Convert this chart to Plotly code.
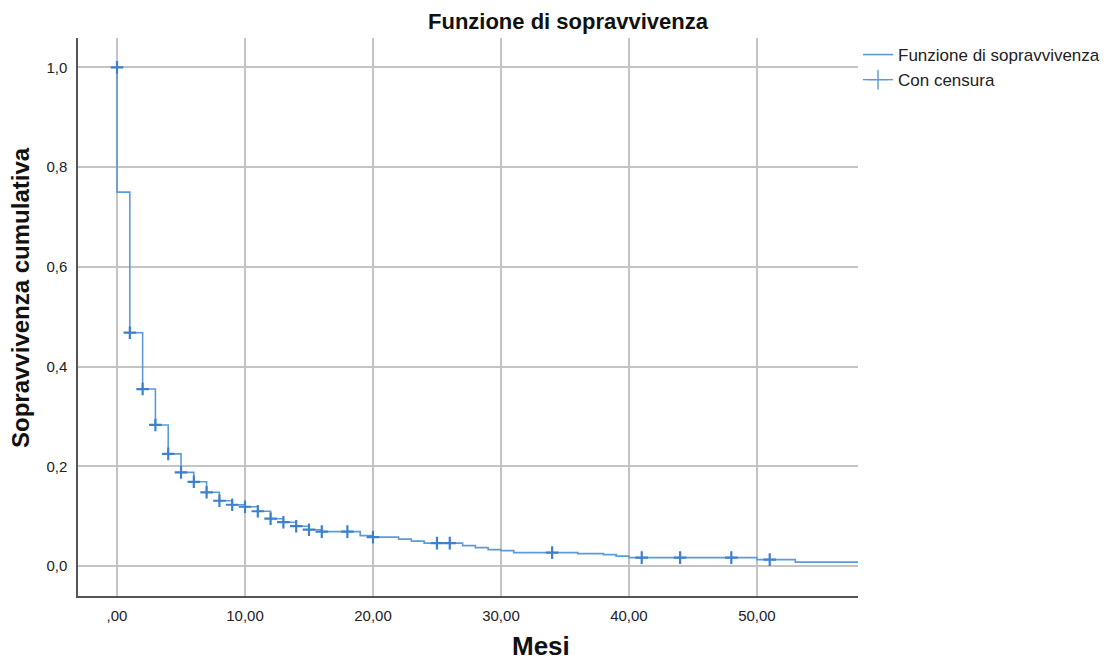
import plotly.graph_objects as go

# Kaplan-Meier step curve (time in months, cumulative survival)
step_times = [0, 0, 1, 2, 3, 4, 5, 6, 7, 8, 9, 10, 11, 12, 13, 14, 15, 16, 19, 20,
              22, 23, 24, 27, 28, 29, 30, 31, 36, 38, 39, 40, 50, 53, 58]
step_surv = [1.0, 0.75, 0.468, 0.355, 0.283, 0.225, 0.188, 0.169, 0.148, 0.131, 0.123,
             0.119, 0.110, 0.095, 0.088, 0.080, 0.073, 0.069, 0.061, 0.058,
             0.054, 0.050, 0.046, 0.041, 0.037, 0.033, 0.031, 0.027, 0.025, 0.023,
             0.020, 0.017, 0.013, 0.008, 0.008]

# Censored observations
cens_times = [0, 1, 2, 3, 4, 5, 6, 7, 8, 9, 10, 11, 12, 13, 14, 15, 16, 18, 20,
              25, 26, 34, 41, 44, 48, 51]
cens_surv = [1.0, 0.468, 0.355, 0.283, 0.225, 0.188, 0.169, 0.148, 0.131, 0.123,
             0.119, 0.110, 0.095, 0.088, 0.080, 0.073, 0.069, 0.069, 0.058,
             0.046, 0.046, 0.027, 0.017, 0.017, 0.017, 0.013]

x_ticks = [0, 10, 20, 30, 40, 50]
x_ticklabels = [",00", "10,00", "20,00", "30,00", "40,00", "50,00"]
y_ticks = [0.0, 0.2, 0.4, 0.6, 0.8, 1.0]
y_ticklabels = ["0,0", "0,2", "0,4", "0,6", "0,8", "1,0"]

LINE = "#5b9bd8"
MARK = "#3d80cc"
FONT = "Liberation Sans, Arial, sans-serif"

W, H = 1110, 660
L, R, T, B = 78, 252, 38, 64
pw, ph = W - L - R, H - T - B


def px(xp):
    return (xp - L) / pw


def py(yp):
    return (H - B - yp) / ph


fig = go.Figure()
fig.add_trace(go.Scatter(
    x=step_times, y=step_surv, mode="lines", line_shape="hv",
    line=dict(color=LINE, width=1.6), name="Funzione di sopravvivenza",
))
fig.add_trace(go.Scatter(
    x=cens_times, y=cens_surv, mode="markers", showlegend=False,
    marker=dict(symbol="cross-thin", size=9, line=dict(color=MARK, width=2.2)),
    name="Con censura",
))
fig.add_trace(go.Scatter(
    x=[None], y=[None], mode="lines+markers", name="Con censura",
    line=dict(color=LINE, width=1.4),
    marker=dict(symbol="cross-thin", size=14, line=dict(color=LINE, width=1.4)),
))

fig.update_layout(
    width=W, height=H,
    margin=dict(l=L, r=R, t=T, b=B, autoexpand=False),
    paper_bgcolor="white", plot_bgcolor="white",
    font=dict(family=FONT, size=14, color="#222222"),
    showlegend=True,
    legend=dict(xref="container", yref="container",
                x=858 / W, y=1 - 37 / H, xanchor="left", yanchor="top",
                font=dict(family=FONT, size=17, color="#222222"),
                tracegroupgap=0, itemwidth=30, bgcolor="rgba(0,0,0,0)"),
)
fig.add_annotation(text="<b>Funzione di sopravvivenza</b>", x=px(568), y=py(22),
                   xref="paper", yref="paper", showarrow=False,
                   xanchor="center", yanchor="middle",
                   font=dict(family=FONT, size=22, color="#111111"))
fig.add_annotation(text="<b>Sopravvivenza cumulativa</b>", x=px(20), y=py(298),
                   xref="paper", yref="paper", showarrow=False, textangle=-90,
                   xanchor="center", yanchor="middle",
                   font=dict(family=FONT, size=24, color="#111111"))
fig.add_annotation(text="<b>Mesi</b>", x=px(541), y=py(646),
                   xref="paper", yref="paper", showarrow=False,
                   xanchor="center", yanchor="middle",
                   font=dict(family=FONT, size=26, color="#111111"))

fig.update_xaxes(range=[-3.05, 57.9], tickvals=x_ticks, ticktext=x_ticklabels,
                 showgrid=True, gridcolor="#c4c4c4", gridwidth=1.5,
                 zeroline=False, showline=True, linecolor="#555555", linewidth=1.5,
                 ticks="", ticklabelstandoff=5, tickfont=dict(size=15, color="#222222"))
fig.update_yaxes(range=[-0.06, 1.059], tickvals=y_ticks, ticktext=y_ticklabels,
                 showgrid=True, gridcolor="#c4c4c4", gridwidth=1.5,
                 zeroline=False, showline=True, linecolor="#555555", linewidth=1.5,
                 ticks="", ticklabelstandoff=6, tickfont=dict(size=15, color="#222222"))

fig.write_html("out.html")
